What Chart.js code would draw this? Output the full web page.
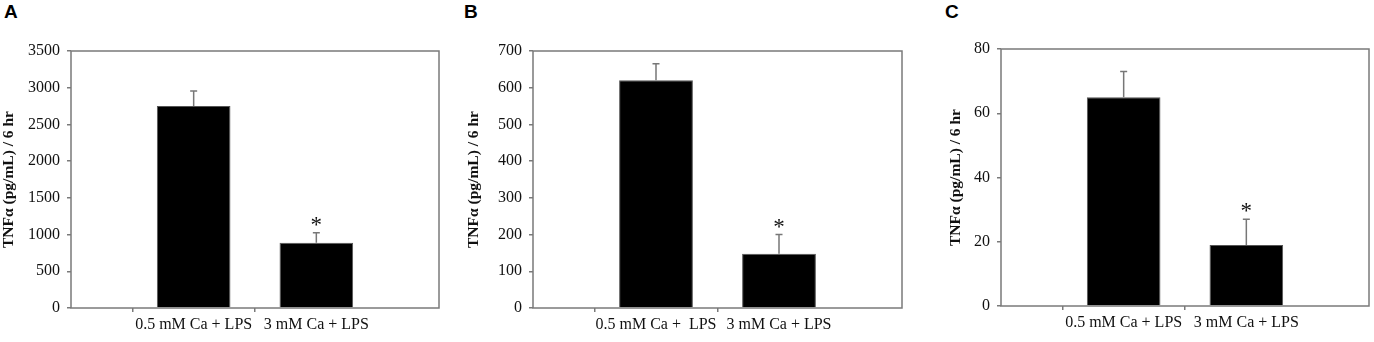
<!DOCTYPE html>
<html lang="en-US">

<head>
    <meta charset="UTF-8">
    <title>TNFa panels</title>
    <script src="https://cdn.jsdelivr.net/npm/chart.js"></script>
    <style>
        body { margin: 0; background: #fff; }
        .panel { position: absolute; top: 0; }
        .letter { position: absolute; top: 1px; font: bold 19px "Liberation Sans", Arial, sans-serif; color: #000; }
    </style>
</head>

<body>
    <div class="letter" style="left:4px">A</div>
    <div class="letter" style="left:464px">B</div>
    <div class="letter" style="left:945px">C</div>
    <div class="panel" style="left:0px"><canvas id="chartA" width="450" height="342"></canvas></div>
    <div class="panel" style="left:460px"><canvas id="chartB" width="450" height="342"></canvas></div>
    <div class="panel" style="left:914px"><canvas id="chartC" width="460" height="342"></canvas></div>

    <script>
        // data
        const categories = ['0.5 mM Ca + LPS', '3 mM Ca + LPS'];
        const categoriesB = ['0.5 mM Ca +  LPS', '3 mM Ca + LPS'];
        const yTitle = 'TNF\u03b1 (pg/mL) / 6 hr';

        const valuesA = [2750, 890];
        const errorsA = [205, 135];
        const valuesB = [620, 148];
        const errorsB = [45, 52];
        const valuesC = [65, 19];
        const errorsC = [8, 8];
        const marks = ['', '*'];

        // y axis ticks: [max, step]
        const ticksA = [3500, 500];
        const ticksB = [700, 100];
        const ticksC = [80, 20];

        Chart.defaults.font.family = '"Liberation Serif", "Times New Roman", serif';
        Chart.defaults.color = '#111';

        const frameColor = '#7a7a7a';

        // box around the plot area
        const framePlugin = {
            id: 'frame',
            beforeDatasetsDraw(chart) {
                const a = chart.chartArea;
                const ctx = chart.ctx;
                ctx.save();
                ctx.strokeStyle = frameColor;
                ctx.lineWidth = 1.5;
                ctx.strokeRect(a.left, a.top, a.right - a.left, a.bottom - a.top);
                ctx.restore();
            }
        };

        // one-sided error bars + significance marks
        const errorPlugin = {
            id: 'errbars',
            afterDatasetsDraw(chart) {
                const ds = chart.data.datasets[0];
                const meta = chart.getDatasetMeta(0);
                const y = chart.scales.y;
                const ctx = chart.ctx;
                ctx.save();
                meta.data.forEach((bar, i) => {
                    const v = ds.data[i];
                    if (v == null) return;
                    const yTop = y.getPixelForValue(v + ds.errors[i]);
                    const yBar = y.getPixelForValue(v);
                    ctx.strokeStyle = '#777';
                    ctx.lineWidth = 1.5;
                    ctx.beginPath();
                    ctx.moveTo(bar.x, yBar);
                    ctx.lineTo(bar.x, yTop);
                    ctx.moveTo(bar.x - 3.5, yTop);
                    ctx.lineTo(bar.x + 3.5, yTop);
                    ctx.stroke();
                    if (ds.marks[i]) {
                        ctx.fillStyle = '#111';
                        ctx.font = '23px "Liberation Serif", serif';
                        ctx.textAlign = 'center';
                        ctx.textBaseline = 'alphabetic';
                        ctx.fillText(ds.marks[i], bar.x, yTop - 1);
                    }
                });
                ctx.restore();
            }
        };

        function BuildPanel(id, cats, values, errors, yTicks, box) {
            // pad the category axis with empty slots so bars sit at 1/3 and 2/3
            const labels = [''].concat(cats, ['']);
            const data = [null].concat(values, [null]);
            const errs = [0].concat(errors, [0]);
            const mk = [''].concat(marks, ['']);
            return new Chart(document.getElementById(id), {
                type: 'bar',
                data: {
                    labels: labels,
                    datasets: [{
                        data: data,
                        errors: errs,
                        marks: mk,
                        backgroundColor: '#000',
                        borderColor: '#555',
                        borderWidth: 1,
                        barPercentage: 1,
                        categoryPercentage: 0.6
                    }]
                },
                options: {
                    responsive: false,
                    animation: false,
                    events: [],
                    layout: { padding: { top: box.top, right: box.right, left: 0, bottom: 0 } },
                    plugins: { legend: { display: false }, tooltip: { enabled: false } },
                    scales: {
                        x: {
                            offset: false,
                            border: { display: false },
                            grid: {
                                drawOnChartArea: false,
                                tickLength: 4,
                                color: (c) => (c.tick && c.tick.label === '') ? 'rgba(0,0,0,0)' : frameColor,
                                lineWidth: 1.5
                            },
                            ticks: { font: { size: 16 }, padding: 3, maxRotation: 0, autoSkip: false, color: '#111' },
                            afterFit: (s) => { s.height = box.xh; }
                        },
                        y: {
                            min: 0,
                            max: yTicks[0],
                            border: { display: false },
                            grid: { drawOnChartArea: false, tickLength: 4, color: frameColor, lineWidth: 1.5 },
                            ticks: {
                                stepSize: yTicks[1],
                                font: { size: 16 },
                                padding: 7,
                                color: '#111',
                                callback: (v) => String(v)
                            },
                            title: {
                                display: true,
                                text: yTitle,
                                font: { size: 15.5, weight: 'bold' },
                                color: '#111',
                                padding: { top: box.tp, bottom: 0 }
                            },
                            afterFit: (s) => { s.width = box.yw; }
                        }
                    }
                },
                plugins: [framePlugin, errorPlugin]
            });
        }

        BuildPanel('chartA', categories, valuesA, errorsA, ticksA, { top: 51, right: 11, xh: 34, yw: 71, tp: 0 });
        BuildPanel('chartB', categoriesB, valuesB, errorsB, ticksB, { top: 51, right: 8, xh: 34, yw: 73, tp: 5 });
        BuildPanel('chartC', categories, valuesC, errorsC, ticksC, { top: 49, right: 5, xh: 36, yw: 87, tp: 33 });
    </script>
</body>

</html>
